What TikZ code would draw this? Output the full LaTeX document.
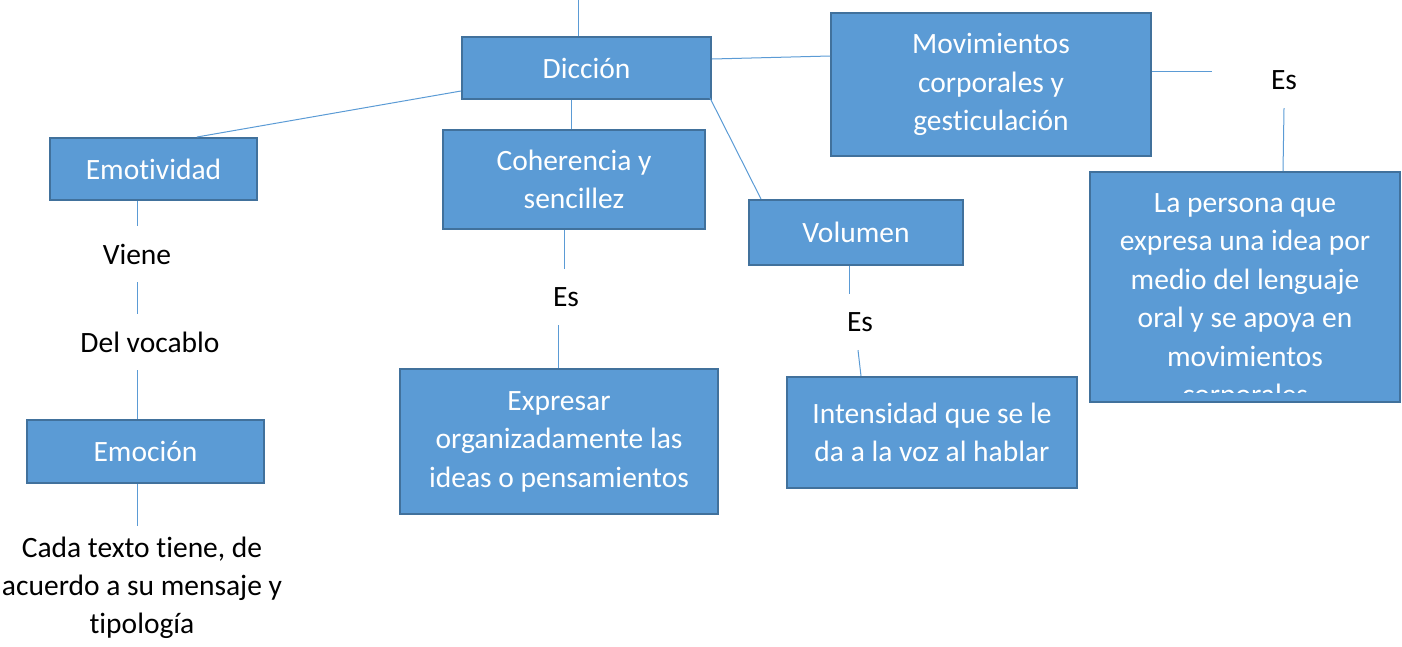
\documentclass[tikz,border=0pt]{standalone}
\usepackage{fontspec}
\setmainfont{Carlito}[Ligatures=NoCommon]
\usepackage{tikz}
\definecolor{cajaazul}{HTML}{5B9BD5}
\definecolor{bordeazul}{HTML}{41719C}
\tikzset{
	caja/.style={draw=bordeazul, fill=cajaazul, line width=2, text=white, align=center, inner sep=0, font=\fontsize{29.5}{38.5}\selectfont},
	textocaja/.style={text=white, align=center, inner sep=0, font=\fontsize{29.5}{38.5}\selectfont},
	etiqueta/.style={align=center, inner sep=0, minimum height=56, font=\fontsize{29.5}{38}\selectfont},
	enlace/.style={draw=cajaazul, line width=1}
}

\begin{document}
\begin{tikzpicture}[x=1pt, y=-1pt]
		\useasboundingbox (0,0) rectangle (1402,646);
		
		% Boxes
		\node[caja, minimum width=249, minimum height=62] (diccion) at (586.5,68) {Dicción};
		\node[caja, minimum width=320, minimum height=143] (movimientos) at (991,84.5) {Movimientos\\corporales y\\gesticulación};
		\node[caja, minimum width=207, minimum height=62] (emotividad) at (153.5,169) {Emotividad};
		\node[caja, minimum width=262, minimum height=99] (coherencia) at (574,179.5) {Coherencia y\\sencillez};
		\node[caja, minimum width=214, minimum height=65] (volumen) at (856,232.5) {Volumen};
		\node[caja, minimum width=310, minimum height=230] (persona) at (1245,287) {};
		\node[caja, minimum width=318, minimum height=145] (expresar) at (559,441.5) {Expresar\\organizadamente las\\ideas o pensamientos};
		\node[caja, minimum width=290, minimum height=111] (intensidad) at (932,432.5) {Intensidad que se le\\da a la voz al hablar};
		\node[caja, minimum width=237, minimum height=63] (emocion) at (145.5,451.5) {Emoción};
		
		%% Text cut by the box
		\begin{scope}
			\clip (1091,173) rectangle (1399,392);
			\node[textocaja] (personatexto) at (1245,301.5) {La persona que\\expresa una idea por\\medio del lenguaje\\oral y se apoya en\\movimientos\\corporales};
		\end{scope}
		
		% Labels
		\node[etiqueta] (viene) at (137,254) {Viene};
		\node[etiqueta] (vocablo) at (150,342) {Del vocablo};
		\node[etiqueta] (es1) at (566,297) {Es};
		\node[etiqueta] (es2) at (860,322) {Es};
		\node[etiqueta] (es3) at (1284,80) {Es};
		\node[etiqueta, minimum height=0] (cada) at (142,588) {Cada texto tiene, de\\acuerdo a su mensaje y\\tipología};
		
		% Lines
		\coordinate (arriba) at (578,0);
		\coordinate (fin) at (1212,71);
		\draw[enlace] (arriba) -- (arriba |- diccion.north);
		\draw[enlace] ([yshift=9]diccion.south west) -- ([xshift=43.5]emotividad.north);
		\draw[enlace] ([xshift=-3]coherencia.north) -- ([xshift=-3]coherencia.north |- diccion.south);
		\draw[enlace] ([yshift=9]diccion.east) -- ([yshift=28.5]movimientos.west);
		\draw[enlace] ([xshift=-2,yshift=2]diccion.south east) -- ([xshift=13]volumen.north west);
		\draw[enlace] ([yshift=13.5]movimientos.east) -- (fin);
		\draw[enlace] (es3.south) -- ([xshift=38]persona.north);
		%% Left column
		\draw[enlace] (viene.north |- emotividad.south) -- (viene.north);
		\draw[enlace] (viene.south) -- (viene.south |- vocablo.north);
		\draw[enlace] (viene |- vocablo.south) -- (viene |- emocion.north);
		\draw[enlace] (viene |- emocion.south) -- ([yshift=11]viene |- cada.north);
		%% Middle
		\draw[enlace] ([xshift=-2]es1.north |- coherencia.south) -- ([xshift=-2]es1.north);
		\draw[enlace] ([xshift=-8]es1.south) -- ([xshift=-8]es1.south |- expresar.north);
		\draw[enlace] ([xshift=-11]es2.north |- volumen.south) -- ([xshift=-11]es2.north);
		\draw[enlace] ([xshift=-2]es2.south) -- ([xshift=-71]intensidad.north);
	\end{tikzpicture}
\end{document}
